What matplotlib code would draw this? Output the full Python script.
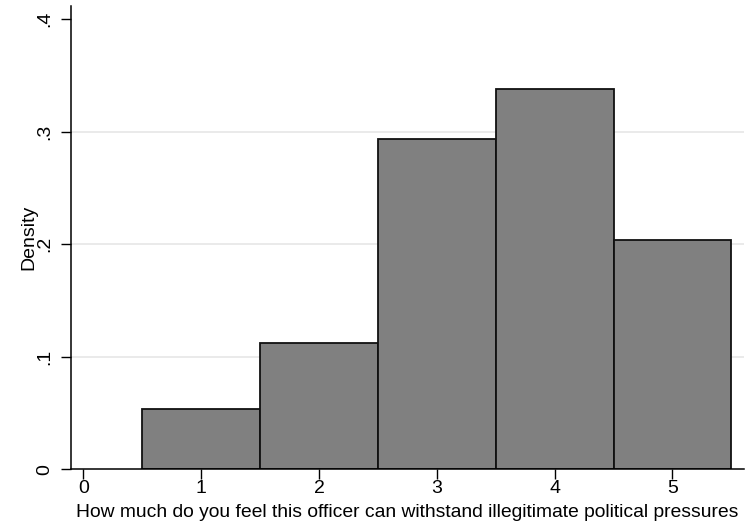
import matplotlib.pyplot as plt
import numpy as np

# histogram bins (response 1..5) and their densities
categories = [1, 2, 3, 4, 5]
density = [0.0533, 0.112, 0.2933, 0.338, 0.2036]
xticks = [0, 1, 2, 3, 4, 5]
yticks = [0, 0.1, 0.2, 0.3, 0.4]
yticklabels = ['0', '.1', '.2', '.3', '.4']

plt.rcParams['font.family'] = ['Liberation Sans', 'DejaVu Sans']

fig = plt.figure(figsize=(7.54, 5.24), dpi=100)
ax = fig.add_axes([71 / 754, 1 - 469.3 / 524, (744 - 71) / 754, (469.3 - 6) / 524])

# grid lines at interior ticks
for v in yticks[1:-1]:
    ax.axhline(v, color='#e6e6e6', lw=1.2, zorder=0)

ax.bar(categories, density, width=1.0, color='#808080', edgecolor='#111111',
       linewidth=1.3, zorder=2)

ax.set_xlim(-0.106, 5.607)
ax.set_ylim(0, 0.4115)
ax.set_xticks(xticks)
ax.set_yticks(yticks)
ax.set_yticklabels(yticklabels, rotation=90, va='center')
ax.tick_params(axis='both', length=7, width=1, labelsize=14, color='black')
ax.tick_params(axis='x', pad=1)
ax.tick_params(axis='y', pad=6)

for s in ['top', 'right']:
    ax.spines[s].set_visible(False)
for s in ['left', 'bottom']:
    ax.spines[s].set_linewidth(1.1)

ax.set_ylabel('Density', fontsize=14, labelpad=-1)
ax.set_xlabel('How much do you feel this officer can withstand illegitimate political pressures',
              fontsize=13.9, labelpad=5)

fig.savefig('out.png', dpi=100)
